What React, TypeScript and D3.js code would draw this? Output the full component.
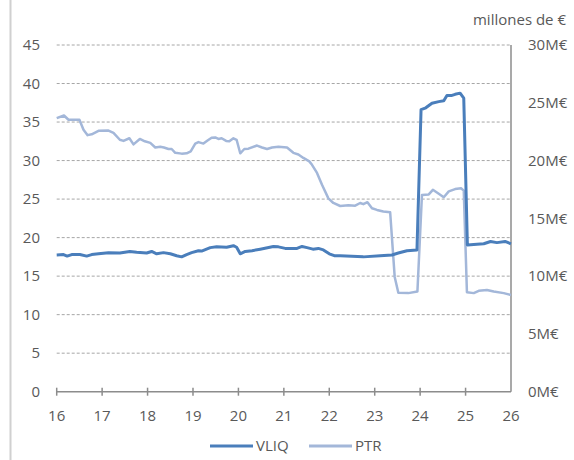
import { useEffect, useRef } from 'react';
import * as d3 from 'd3';

// day of month (x) and values
const vliqDays = [16.0, 16.15, 16.23, 16.33, 16.51, 16.66, 16.77, 16.92, 17.14, 17.39, 17.61, 17.76, 17.98, 18.09, 18.2, 18.35, 18.5, 18.64, 18.75, 18.86, 18.97, 19.12, 19.19, 19.38, 19.52, 19.74, 19.89, 19.96, 20.04, 20.15, 20.3, 20.48, 20.77, 20.88, 21.03, 21.29, 21.4, 21.51, 21.64, 21.76, 21.87, 22.0, 22.11, 22.24, 22.75, 23.12, 23.38, 23.52, 23.71, 23.93, 24.02, 24.11, 24.26, 24.41, 24.52, 24.59, 24.7, 24.77, 24.88, 24.96, 25.04, 25.25, 25.4, 25.55, 25.69, 25.87, 26.0];
const vliqValues = [17.75, 17.8, 17.6, 17.8, 17.8, 17.6, 17.8, 17.9, 18.05, 18.0, 18.2, 18.1, 18.0, 18.2, 17.9, 18.05, 17.9, 17.65, 17.5, 17.8, 18.05, 18.3, 18.25, 18.7, 18.8, 18.75, 18.95, 18.75, 17.9, 18.2, 18.3, 18.5, 18.85, 18.8, 18.6, 18.6, 18.85, 18.7, 18.5, 18.6, 18.4, 17.9, 17.65, 17.65, 17.5, 17.65, 17.75, 18.0, 18.3, 18.4, 36.6, 36.8, 37.45, 37.65, 37.75, 38.45, 38.45, 38.6, 38.75, 38.1, 19.05, 19.15, 19.2, 19.5, 19.35, 19.5, 19.2];

// PTR in millones de € (right axis)
const ptrDays = [16.0, 16.16, 16.26, 16.37, 16.5, 16.59, 16.68, 16.77, 16.92, 17.14, 17.25, 17.39, 17.47, 17.6, 17.69, 17.83, 17.94, 18.06, 18.17, 18.28, 18.36, 18.46, 18.53, 18.61, 18.75, 18.86, 18.95, 19.05, 19.12, 19.23, 19.32, 19.41, 19.49, 19.56, 19.63, 19.73, 19.8, 19.89, 19.96, 20.04, 20.13, 20.22, 20.41, 20.52, 20.63, 20.74, 20.88, 21.07, 21.21, 21.32, 21.43, 21.56, 21.62, 21.73, 21.84, 21.98, 22.09, 22.24, 22.42, 22.57, 22.68, 22.75, 22.84, 22.94, 23.05, 23.19, 23.34, 23.44, 23.52, 23.74, 23.94, 24.04, 24.19, 24.28, 24.41, 24.52, 24.63, 24.77, 24.9, 24.96, 25.03, 25.18, 25.29, 25.47, 25.62, 25.84, 26.0];
const ptrValues = [23.67, 23.9, 23.53, 23.53, 23.53, 22.67, 22.2, 22.27, 22.57, 22.6, 22.4, 21.8, 21.7, 21.93, 21.4, 21.87, 21.67, 21.53, 21.13, 21.2, 21.13, 21.0, 21.0, 20.67, 20.6, 20.63, 20.8, 21.47, 21.6, 21.47, 21.73, 21.97, 22.0, 21.87, 21.93, 21.7, 21.67, 21.93, 21.8, 20.63, 21.0, 21.03, 21.3, 21.13, 21.0, 21.13, 21.2, 21.13, 20.67, 20.53, 20.23, 19.93, 19.63, 18.93, 17.9, 16.73, 16.33, 16.07, 16.13, 16.1, 16.33, 16.23, 16.4, 15.87, 15.73, 15.6, 15.53, 9.93, 8.57, 8.53, 8.67, 17.03, 17.07, 17.47, 17.13, 16.83, 17.33, 17.53, 17.6, 17.4, 8.6, 8.53, 8.73, 8.8, 8.67, 8.53, 8.37];

const xTicks = [16, 17, 18, 19, 20, 21, 22, 23, 24, 25, 26];
const leftTicks = [0, 5, 10, 15, 20, 25, 30, 35, 40, 45];
const rightTicks = [0, 5, 10, 15, 20, 25, 30];

const seriesNames = ['VLIQ', 'PTR'];
const seriesColors = ['#4a7ebb', '#a3b7d9'];

export default function App() {
  const svgRef = useRef<SVGSVGElement>(null);

  useEffect(() => {
    if (!svgRef.current) return;
    document.body.style.margin = '0';

    const svg = d3.select(svgRef.current);
    svg.selectAll('*').remove();

    const font = "'Open Sans', 'Liberation Sans', sans-serif";
    const textColor = '#595959';
    const axisColor = '#8c8c8c';

    const left = 56.7, right = 511, top = 45, bottom = 391.7;

    const x = d3.scaleLinear().domain([16, 26]).range([left, right]);
    const yL = d3.scaleLinear().domain([0, 45]).range([bottom, top]);
    const yR = d3.scaleLinear().domain([0, 30]).range([bottom, top]);

    // chart frame edge on the left
    svg.append('line')
      .attr('x1', 10.5).attr('x2', 10.5)
      .attr('y1', 0).attr('y2', 460)
      .attr('stroke', '#d0d0d0')
      .attr('stroke-width', 2);

    // gridlines
    svg.append('g')
      .selectAll('line')
      .data(leftTicks.filter(d => d > 0))
      .enter()
      .append('line')
      .attr('x1', left).attr('x2', right)
      .attr('y1', d => yL(d)).attr('y2', d => yL(d))
      .attr('stroke', '#a6a6a6')
      .attr('stroke-width', 1)
      .attr('stroke-dasharray', '3,2');

    // left axis labels
    svg.append('g')
      .selectAll('text')
      .data(leftTicks)
      .enter()
      .append('text')
      .attr('x', 40)
      .attr('y', d => yL(d))
      .attr('dy', '0.35em')
      .attr('text-anchor', 'end')
      .attr('font-family', font)
      .attr('font-size', 15)
      .attr('fill', textColor)
      .text(d => d);

    // right axis
    svg.append('line')
      .attr('x1', right).attr('x2', right)
      .attr('y1', top).attr('y2', bottom)
      .attr('stroke', axisColor)
      .attr('stroke-width', 1.5);

    svg.append('g')
      .selectAll('text')
      .data(rightTicks)
      .enter()
      .append('text')
      .attr('x', 528)
      .attr('y', d => yR(d))
      .attr('dy', '0.35em')
      .attr('font-family', font)
      .attr('font-size', 15)
      .attr('fill', textColor)
      .text(d => `${d}M€`);

    svg.append('text')
      .attr('x', 566)
      .attr('y', 25)
      .attr('text-anchor', 'end')
      .attr('font-family', font)
      .attr('font-size', 15)
      .attr('fill', textColor)
      .text('millones de €');

    // x axis
    svg.append('line')
      .attr('x1', left).attr('x2', right)
      .attr('y1', bottom).attr('y2', bottom)
      .attr('stroke', axisColor)
      .attr('stroke-width', 1.5);

    svg.append('g')
      .selectAll('line')
      .data(xTicks.slice(0, -1))
      .enter()
      .append('line')
      .attr('x1', d => x(d)).attr('x2', d => x(d))
      .attr('y1', bottom - 4).attr('y2', bottom + 4)
      .attr('stroke', axisColor)
      .attr('stroke-width', 1.5);

    svg.append('g')
      .selectAll('text')
      .data(xTicks)
      .enter()
      .append('text')
      .attr('x', d => x(d))
      .attr('y', 421)
      .attr('text-anchor', 'middle')
      .attr('font-family', font)
      .attr('font-size', 15)
      .attr('fill', textColor)
      .text(d => d);

    // lines
    const lineL = d3.line<number>()
      .x((_, i) => x(ptrDays[i]))
      .y(d => yR(d));
    svg.append('path')
      .attr('d', lineL(ptrValues))
      .attr('fill', 'none')
      .attr('stroke', seriesColors[1])
      .attr('stroke-width', 2.5)
      .attr('stroke-linejoin', 'round');

    const lineV = d3.line<number>()
      .x((_, i) => x(vliqDays[i]))
      .y(d => yL(d));
    svg.append('path')
      .attr('d', lineV(vliqValues))
      .attr('fill', 'none')
      .attr('stroke', seriesColors[0])
      .attr('stroke-width', 3)
      .attr('stroke-linejoin', 'round');

    // legend
    const legendX = [210, 309];
    const legend = svg.append('g')
      .selectAll('g')
      .data(seriesNames)
      .enter()
      .append('g')
      .attr('transform', (_, i) => `translate(${legendX[i]},446)`);

    legend.append('line')
      .attr('x1', 0).attr('x2', 43)
      .attr('stroke', (_, i) => seriesColors[i])
      .attr('stroke-width', 3);

    legend.append('text')
      .attr('x', 46)
      .attr('dy', '0.35em')
      .attr('font-family', font)
      .attr('font-size', 15)
      .attr('fill', textColor)
      .text(d => d);
  }, []);

  return <svg ref={svgRef} width={574} height={460} style={{ display: 'block' }} />;
}
